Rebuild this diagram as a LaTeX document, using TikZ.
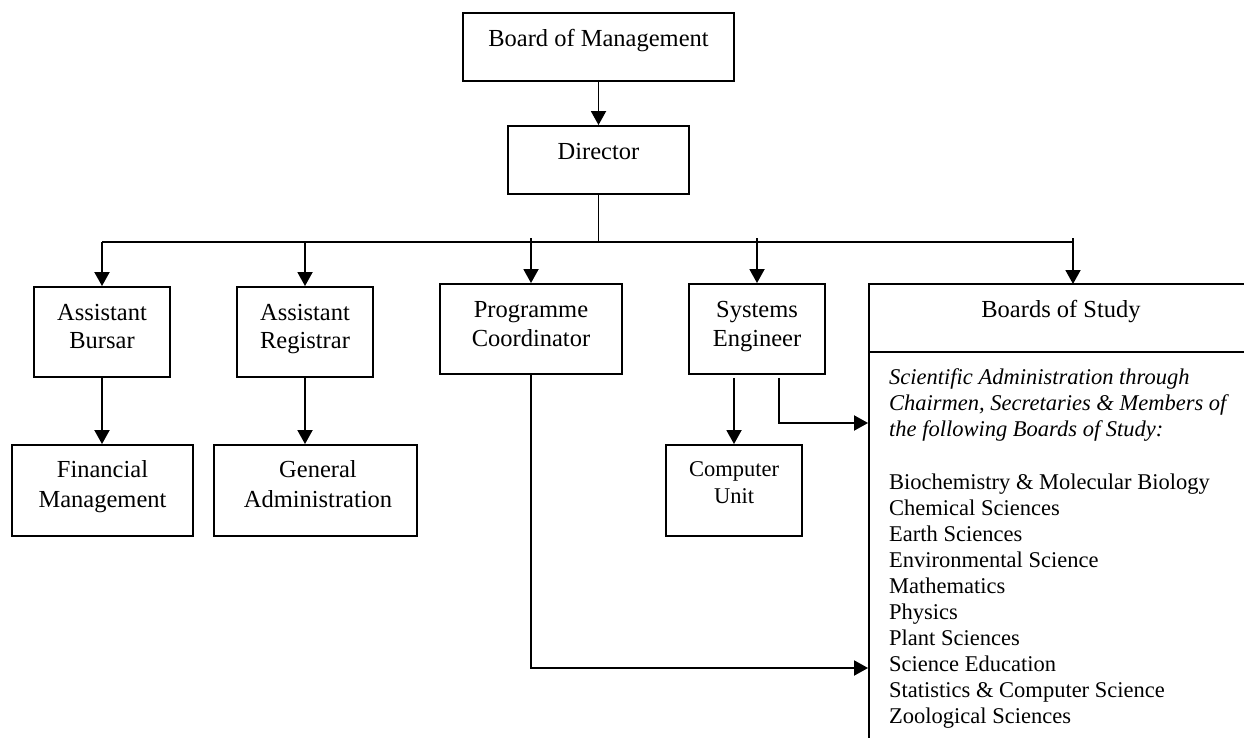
\documentclass[tikz,border=0pt]{standalone}
\usepackage{fontspec}
\setmainfont{Liberation Serif}
\usetikzlibrary{arrows.meta}
\begin{document}
\begin{tikzpicture}[x=1pt,y=-1pt,
  box/.style={draw, line width=1.9pt, inner sep=0pt},
  big/.style={font=\fontsize{24.5}{28}\selectfont, anchor=base, inner sep=0pt},
  small/.style={font=\fontsize{22.5}{26}\selectfont, anchor=base, inner sep=0pt},
  lst/.style={small, anchor=base west},
  conn/.style={line width=1.9pt},
  arr/.style={conn, -{Triangle[length=14pt,width=15pt]}}]
\useasboundingbox (0,0) rectangle (1244,738);
% boxes
\node[box,minimum width=271pt,minimum height=68pt] (bm) at (598.5,47) {};
\node[big] (bm-t) at (598.5,47) {Board of Management};
\node[box,minimum width=181pt,minimum height=68pt] (dir) at (598.5,160) {};
\node[big] (dir-t) at (598.5,160) {Director};
\node[box,minimum width=136pt,minimum height=90pt] (ab) at (102,332) {};
\node[big] (ab-t1) at (102,320) {Assistant};
\node[big] (ab-t2) at (102,348) {Bursar};
\node[box,minimum width=136pt,minimum height=90pt] (ar) at (305,332) {};
\node[big] (ar-t1) at (305,320) {Assistant};
\node[big] (ar-t2) at (305,348) {Registrar};
\node[box,minimum width=182pt,minimum height=90pt] (pc) at (531,329) {};
\node[big] (pc-t1) at (531,317) {Programme};
\node[big] (pc-t2) at (531,346) {Coordinator};
\node[box,minimum width=136pt,minimum height=90pt] (se) at (757,329) {};
\node[big] (se-t1) at (757,317) {Systems};
\node[big] (se-t2) at (757,346) {Engineer};
\node[box,minimum width=181pt,minimum height=91pt] (fm) at (102.5,490.5) {};
\node[big] (fm-t1) at (102.5,477) {Financial};
\node[big] (fm-t2) at (102.5,507) {Management};
\node[box,minimum width=203pt,minimum height=91pt] (ga) at (315.5,490.5) {};
\node[big] (ga-t1) at (318,477) {General};
\node[big] (ga-t2) at (318,507) {Administration};
\node[box,minimum width=136pt,minimum height=91pt] (cu) at (734,490.5) {};
\node[small] (cu-t1) at (734,476) {Computer};
\node[small] (cu-t2) at (734,503) {Unit};
\node[box,minimum width=384pt,minimum height=476pt] (bos) at (1061,522) {};
\coordinate (div) at (0,352);
\draw[conn] (bos.west |- div) -- (bos.east |- div);
\node[big] (bos-t) at (1061,317) {Boards of Study};
\node[lst] (bos-i1) at (889,384) {\itshape Scientific Administration through};
\node[lst] (bos-i2) at (889,410) {\itshape Chairmen, Secretaries \& Members of};
\node[lst] (bos-i3) at (889,436) {\itshape the following Boards of Study:};
\foreach \t [count=\i from 0] in {Biochemistry \& Molecular Biology, Chemical Sciences, Earth Sciences, Environmental Science, Mathematics, Physics, Plant Sciences, Science Education, Statistics \& Computer Science, Zoological Sciences}
  \node[lst] (bos-l\i) at (889,489+26*\i) {\t};
% connectors
\coordinate (bus) at (0,242);
\coordinate (tick) at (0,238);
\coordinate (bos-in) at (1073,284);
\draw[arr] (bm.south) -- (dir.north);
\draw[conn] (dir.south) -- (dir.south |- bus);
\draw[conn] (bus -| ab.north) -- (bus -| bos-in);
\draw[arr] (bus -| ab.north) -- (ab.north);
\draw[arr] (bus -| ar.north) -- (ar.north);
\draw[arr] (tick -| pc.north) -- (pc.north);
\draw[arr] (tick -| se.north) -- (se.north);
\draw[arr] (tick -| bos-in) -- (bos-in);
\draw[arr] (ab.south) -- (ab.south |- fm.north);
\draw[arr] (ar.south) -- (ar.south |- ga.north);
\coordinate (se-b) at ([yshift=-3pt]se.south);
\coordinate (se-r) at (779,423);
\coordinate (pc-r) at (0,668);
\draw[arr] (se-b -| cu.north) -- (cu.north);
\draw[arr] (se-b -| se-r) |- (se-r -| bos.west);
\draw[arr] (pc.south) |- (pc-r -| bos.west);
\end{tikzpicture}
\end{document}
